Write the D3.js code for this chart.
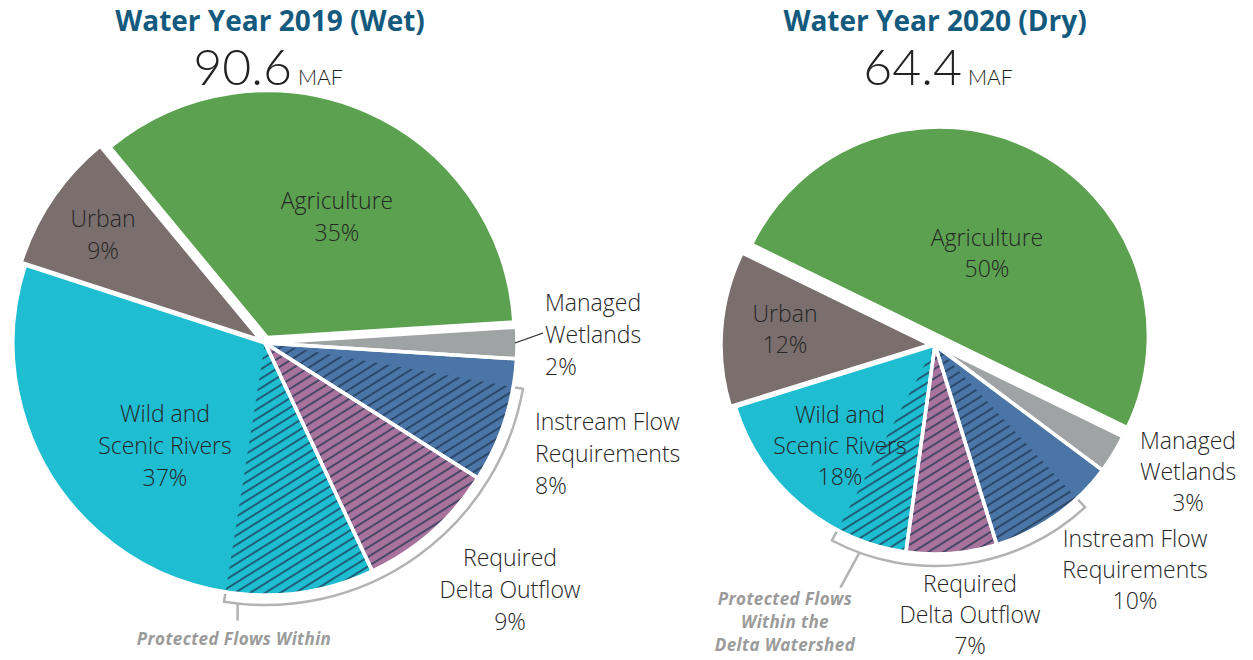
<!DOCTYPE html>
<html>
<head>
<meta charset="utf-8">
<script src="https://cdn.jsdelivr.net/npm/d3@7"></script>
<style>
  body { margin: 0; background: #fff; }
  svg { display: block; }
  .title { font-family: "Open Sans", Lato, sans-serif; font-weight: 700; fill: #135a7e; }
  .big { font-family: Lato, "Open Sans", sans-serif; font-weight: 300; fill: #222; }
  .lbl { font-family: "Open Sans", Lato, sans-serif; font-weight: 300; font-size: 23px; fill: #262626; }
  .prot { font-family: "Open Sans", Lato, sans-serif; font-weight: 700; font-style: italic; font-size: 17px; letter-spacing: 0.4px; fill: #9b9b9b; }
</style>
</head>
<body>
<svg id="chart" width="1253" height="660"></svg>
<script>
var categories = ["Agriculture", "Managed Wetlands", "Instream Flow Requirements",
                  "Required Delta Outflow", "Wild and Scenic Rivers", "Urban"];
var categoryLines = [["Agriculture"], ["Managed", "Wetlands"], ["Instream Flow", "Requirements"],
                     ["Required", "Delta Outflow"], ["Wild and", "Scenic Rivers"], ["Urban"]];
var colors = ["#5ba150", "#9fa3a4", "#4a75a6", "#a7739c", "#1fbdd1", "#7a6f6d"];

var titles = ["Water Year 2019 (Wet)", "Water Year 2020 (Dry)"];
var totalsMAF = [90.6, 64.4];

// percent of total water
var wet2019 = [35, 2, 8, 9, 37, 9];
var dry2020 = [50, 3, 10, 7, 18, 12];

// share of each category that counts as protected flows within the delta watershed (percent of total)
var protected2019 = [0, 0, 6.2, 9, 9.5, 0];
var protected2020 = [0, 0, 7.1, 7, 5.5, 0];

var charts = [
  { title: titles[0], total: totalsMAF[0], values: wet2019, prot: protected2019,
    cx: 265, cy: 343, r: 252, start: -39.6, explode: [6, 0, 0, 0, 0, 5], shrink: [5, 0, 0, 0, 0, 0],
    titleDx: 5, lineH: 32, bracketGap: 10, stemAngle: 186, stemEnd: [0, 17],
    protLines: ["Protected Flows Within"], protPos: [-31, 302],
    leader: 1,
    labels: [
      {dx: 72, dy: -143, anchor: "middle"},
      {dx: 280, dy: -41, anchor: "start"},
      {dx: 270, dy: 78, anchor: "start"},
      {dx: 245, dy: 214, anchor: "middle"},
      {dx: -100, dy: 70, anchor: "middle"},
      {dx: -162, dy: -125, anchor: "middle"}
    ]},
  { title: titles[1], total: totalsMAF[1], values: dry2020, prot: protected2020,
    cx: 935, cy: 345, r: 209, start: -64, explode: [10, 0, 0, 0, 0, 5], shrink: [0, 0, 0, 0, 0, 0],
    titleDx: 0, lineH: 31, bracketGap: 12, stemAngle: 200, stemEnd: [-19, 35],
    protLines: ["Protected Flows", "Within the", "Delta Watershed"], protPos: [-150, 260],
    leader: -1,
    labels: [
      {dx: 52, dy: -108, anchor: "middle"},
      {dx: 253, dy: 95, anchor: "middle"},
      {dx: 200, dy: 193, anchor: "middle"},
      {dx: 35, dy: 238, anchor: "middle"},
      {dx: -95, dy: 69, anchor: "middle"},
      {dx: -150, dy: -32, anchor: "middle"}
    ]}
];

var svg = d3.select("#chart");
var rad = Math.PI / 180;

// hatch pattern
var defs = svg.append("defs");
defs.append("pattern")
  .attr("id", "hatch")
  .attr("patternUnits", "userSpaceOnUse")
  .attr("width", 8)
  .attr("height", 8)
  .attr("patternTransform", "rotate(-32)")
  .append("line")
  .attr("x1", 0).attr("y1", 4).attr("x2", 8).attr("y2", 4)
  .attr("stroke", "#1d3450")
  .attr("stroke-width", 1.4);

var pieLayer = svg.append("g");
var textLayer = svg.append("g");

function polar(a, r) { return [r * Math.sin(a), -r * Math.cos(a)]; }

charts.forEach(function(c) {
  var a0 = c.start * rad;
  var pie = d3.pie().sort(null).value(function(d) { return d; })
    .startAngle(a0).endAngle(a0 + 2 * Math.PI);
  var arcs = pie(c.values);
  var arc = d3.arc().innerRadius(0).outerRadius(function(d) { return c.r - c.shrink[d.index]; });
  var angle = d3.scaleLinear().domain([0, d3.sum(c.values)]).range([a0, a0 + 2 * Math.PI]);

  // title and total
  textLayer.append("text").attr("class", "title")
    .attr("x", c.cx + c.titleDx).attr("y", 31)
    .attr("text-anchor", "middle").style("font-size", "28px")
    .text(c.title);
  var big = textLayer.append("text").attr("class", "big")
    .attr("x", c.cx + 3).attr("y", 85).attr("text-anchor", "middle");
  big.append("tspan").style("font-size", "50px").text(c.total);
  big.append("tspan").style("font-size", "21px").attr("dx", 6).text("MAF");

  var g = pieLayer.append("g").attr("transform", "translate(" + c.cx + "," + c.cy + ")");
  var tg = textLayer.append("g").attr("transform", "translate(" + c.cx + "," + c.cy + ")");

  function offset(d, i) {
    var m = (d.startAngle + d.endAngle) / 2;
    var p = polar(m, c.explode[i]);
    return "translate(" + p[0] + "," + p[1] + ")";
  }

  g.selectAll("path.slice")
    .data(arcs)
    .enter().append("path")
    .attr("class", "slice")
    .attr("transform", offset)
    .attr("d", arc)
    .attr("fill", function(d, i) { return colors[i]; });

  // protected flows range (contiguous)
  var cum = 0, pStart = null, pEnd = null;
  c.values.forEach(function(v, i) {
    if (c.prot[i] > 0) {
      if (pStart === null) pStart = cum + v - c.prot[i];
      pEnd = cum + c.prot[i];
    }
    cum += v;
  });
  var h0 = angle(pStart), h1 = angle(pEnd);

  g.append("path")
    .attr("d", d3.arc().innerRadius(0).outerRadius(c.r - 1).startAngle(h0).endAngle(h1)())
    .attr("fill", "url(#hatch)");

  // white separators on top
  g.selectAll("path.sep")
    .data(arcs)
    .enter().append("path")
    .attr("class", "sep")
    .attr("transform", offset)
    .attr("d", arc)
    .attr("fill", "none")
    .attr("stroke", "#fff")
    .attr("stroke-width", 3.5)
    .attr("stroke-linejoin", "round");

  // bracket
  var rb = c.r + c.bracketGap, rt = c.r + 2;
  var p0 = polar(h0, rt), p1 = polar(h1, rt);
  var bracket = d3.path();
  bracket.moveTo(p0[0], p0[1]);
  var q0 = polar(h0, rb);
  bracket.lineTo(q0[0], q0[1]);
  bracket.arc(0, 0, rb, h0 - Math.PI / 2, h1 - Math.PI / 2, false);
  bracket.lineTo(p1[0], p1[1]);
  g.append("path").attr("d", bracket.toString())
    .attr("fill", "none").attr("stroke", "#b3b3b3").attr("stroke-width", 2.5);

  var s0 = polar(c.stemAngle * rad, rb);
  g.append("line")
    .attr("x1", s0[0]).attr("y1", s0[1])
    .attr("x2", s0[0] + c.stemEnd[0]).attr("y2", s0[1] + c.stemEnd[1])
    .attr("stroke", "#b3b3b3").attr("stroke-width", 2.5);

  var pt = tg.append("text").attr("class", "prot").attr("text-anchor", "middle");
  c.protLines.forEach(function(t, k) {
    pt.append("tspan").attr("x", c.protPos[0]).attr("y", c.protPos[1] + k * 23).text(t);
  });

  // labels
  arcs.forEach(function(d, i) {
    var L = c.labels[i];
    var t = tg.append("text").attr("class", "lbl")
      .attr("text-anchor", L.anchor)
      .attr("dominant-baseline", "central");
    var lines = categoryLines[i].concat([c.values[i] + "%"]);
    lines.forEach(function(s, k) {
      t.append("tspan").attr("x", L.dx).attr("y", L.dy + k * c.lineH).text(s);
    });
    if (i === 1 && c.leader > 0) {
      var m = (d.startAngle + d.endAngle) / 2;
      var lp = polar(m, c.r - 2);
      tg.append("line")
        .attr("x1", lp[0]).attr("y1", lp[1])
        .attr("x2", L.dx - 2).attr("y2", L.dy + c.lineH - 1)
        .attr("stroke", "#222").attr("stroke-width", 1.2);
    }
  });
});
</script>
</body>
</html>
